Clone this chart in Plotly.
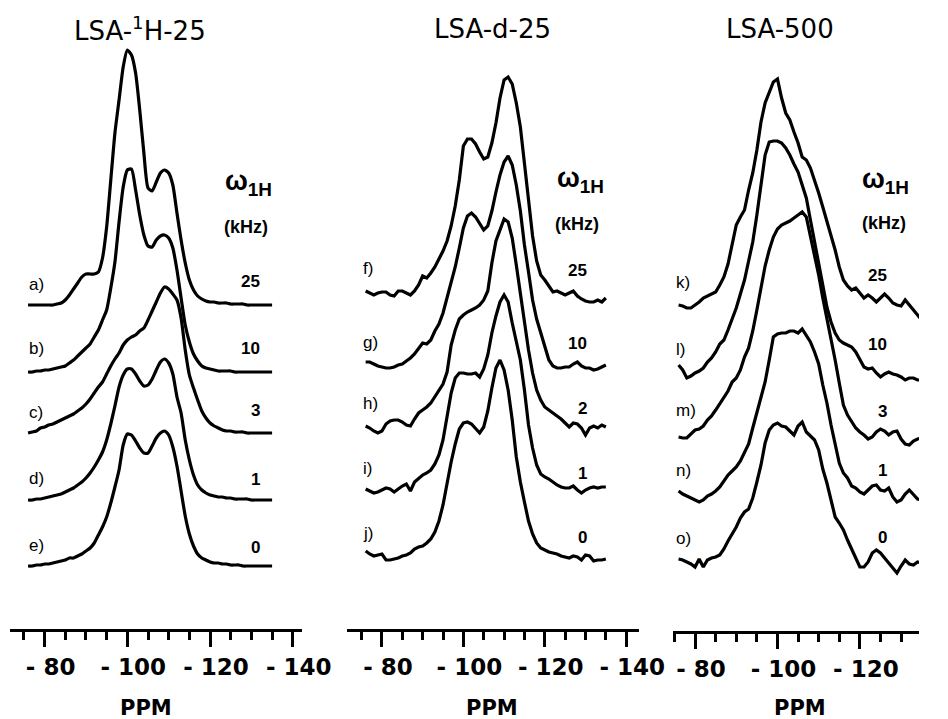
import plotly.graph_objects as go

# Chemical shift grid (ppm) shared by every spectrum
ppm = [-76, -77, -78, -79, -80, -81, -82, -83, -84, -85,
       -86, -87, -88, -89, -90, -91, -92, -93, -94, -95,
       -96, -97, -98, -99, -100, -101, -102, -103, -104, -105,
       -106, -107, -108, -109, -110, -111, -112, -113, -114, -115,
       -116, -117, -118, -119, -120, -121, -122, -123, -124, -125,
       -126, -127, -128, -129, -130, -131, -132, -133, -134, -135]

# ---- LSA-1H-25 : 29Si CP/MAS intensities (a.u.) ----
spec_a = [0, 0, 0, 0, 0, 0, 0, 1, 2, 5, 10, 16, 22, 28, 31, 31, 31, 33, 47, 78,
          125, 172, 205, 238, 255, 250, 232, 195, 152, 117, 114, 123, 132, 135, 132, 120, 92, 65, 42, 25,
          15, 9, 6, 4, 3, 3, 2, 2, 2, 1, 1, 1, 1, 0, 0, 0, 0, 0, 0, 0]
spec_b = [0, 0, 1, 1, 2, 2, 3, 4, 5, 6, 9, 12, 16, 20, 24, 28, 35, 42, 52, 62,
          84, 110, 150, 185, 202, 203, 182, 157, 137, 126, 125, 132, 136, 137, 134, 124, 102, 74, 47, 30,
          18, 11, 6, 4, 3, 2, 1, 1, 1, 1, 0, 0, 0, 0, 0, 0, 0, 0, 0, 0]
spec_c = [0, 1, 2, 5, 6, 8, 9, 11, 13, 15, 17, 19, 22, 25, 29, 34, 40, 46, 51, 59,
          67, 74, 80, 88, 93, 96, 98, 102, 105, 113, 122, 131, 140, 146, 144, 139, 133, 115, 83, 58,
          45, 33, 22, 15, 10, 7, 5, 3, 2, 2, 1, 1, 1, 0, 0, 0, 0, 0, 0, 0]
spec_d = [0, 0, 1, 1, 2, 3, 4, 5, 6, 8, 10, 12, 15, 18, 22, 27, 33, 40, 48, 60,
          76, 94, 113, 125, 131, 131, 126, 119, 114, 115, 121, 130, 138, 141, 137, 126, 103, 87, 60, 40,
          25, 15, 10, 7, 5, 4, 3, 3, 2, 2, 1, 1, 1, 1, 0, 0, 0, 0, 0, 0]
spec_e = [0, 0, 1, 1, 2, 2, 3, 4, 5, 6, 8, 8, 10, 12, 15, 18, 23, 31, 39, 49,
          63, 79, 96, 121, 132, 131, 125, 118, 113, 113, 120, 128, 133, 135, 131, 119, 100, 75, 50, 32,
          20, 12, 8, 6, 4, 3, 3, 2, 2, 1, 1, 1, 0, 0, 0, 0, 0, 0, 0, 0]

# ---- LSA-d-25 ----
spec_f = [5, 3, 1, 3, 4, 4, 1, 0, 5, 5, 3, 1, 5, 11, 20, 18, 23, 29, 37, 45,
          55, 70, 90, 116, 150, 157, 157, 152, 144, 137, 139, 153, 173, 198, 216, 219, 212, 193, 169, 133,
          96, 60, 35, 21, 16, 10, 4, 5, 3, 1, 3, 5, 0, -3, -5, -6, -6, -4, -6, -2]
spec_g = [4, 4, 2, 0, -1, -2, -2, -1, 1, 2, 5, 8, 12, 17, 23, 22, 26, 35, 42, 53,
          69, 82, 99, 118, 138, 150, 153, 149, 142, 136, 140, 155, 174, 191, 204, 210, 201, 181, 155, 121,
          94, 66, 47, 34, 19, 6, 0, -2, -2, -1, -1, 2, 4, 0, -2, -2, -4, -3, -1, 1]
spec_h = [0, -2, -5, -7, -5, 2, 5, 6, 6, 4, 1, 0, 7, 13, 16, 19, 23, 29, 35, 42,
          54, 81, 96, 107, 111, 114, 116, 118, 121, 126, 135, 163, 185, 197, 207, 204, 188, 161, 131, 104,
          76, 53, 36, 26, 19, 16, 13, 10, 7, 3, -1, 3, 2, -2, -9, -2, 0, -2, 1, -1]
spec_i = [1, -1, -3, -2, 0, 2, 1, -2, 1, 4, 6, -1, 8, 12, 15, 17, 20, 26, 35, 50,
          73, 97, 112, 117, 117, 116, 116, 117, 113, 121, 135, 157, 174, 188, 195, 188, 167, 150, 130, 100,
          65, 42, 25, 16, 13, 11, 8, 5, 3, 2, 2, 4, 0, -3, 0, 2, 3, 2, 3, 3]
spec_j = [5, 2, 0, 1, 2, -4, -4, -3, -2, 0, 1, 3, 7, 9, 10, 13, 17, 24, 35, 51,
          73, 94, 112, 127, 133, 134, 132, 127, 123, 129, 145, 168, 188, 196, 186, 166, 136, 99, 74, 54,
          35, 22, 13, 8, 6, 4, 3, 2, 0, -1, -2, 0, -1, -4, 1, 0, -5, -4, -4, -3]

# ---- LSA-500 ----
spec_k = [1, 0, -2, -2, 1, 4, 8, 10, 12, 14, 21, 29, 42, 61, 81, 89, 96, 116, 133, 156,
          184, 203, 214, 224, 227, 208, 193, 186, 174, 163, 149, 146, 138, 126, 113, 99, 85, 71, 56, 39,
          26, 20, 16, 18, 13, 8, 11, 8, 4, 8, 12, 8, 3, 1, 0, 6, 1, -4, -9, -14]
spec_l = [7, 2, -6, -4, -1, 1, 4, 10, 14, 20, 28, 32, 42, 52, 64, 78, 92, 111, 130, 157,
          187, 217, 230, 231, 231, 229, 224, 217, 208, 200, 187, 174, 152, 129, 109, 87, 65, 50, 39, 32,
          29, 27, 25, 20, 12, 5, 3, 4, -1, -5, -2, 0, -2, -3, -5, -8, -6, -6, -8, -8]
spec_m = [-2, -3, -3, 1, 5, 6, 9, 15, 19, 25, 31, 38, 44, 53, 57, 65, 78, 87, 104, 125,
          147, 169, 185, 198, 206, 210, 212, 214, 217, 220, 223, 218, 199, 180, 160, 137, 117, 94, 75, 52,
          30, 20, 13, 7, 3, 0, -4, -2, 3, 6, 4, 0, 3, 4, -4, -9, -10, -6, -4, -3]
spec_n = [3, 0, -2, -4, -6, -8, -6, -2, 0, 3, 7, 13, 19, 23, 27, 33, 42, 50, 66, 82,
          96, 112, 134, 157, 160, 161, 161, 163, 163, 161, 165, 158, 152, 142, 130, 109, 91, 69, 49, 31,
          21, 16, 8, 6, 2, 0, 4, 8, 9, 4, 3, 6, -3, -8, -6, 0, 4, -1, -5, -6]
spec_o = [1, 0, -2, -4, -7, 1, -7, 0, 2, 3, 5, 11, 19, 26, 33, 42, 48, 51, 62, 78,
          95, 117, 130, 135, 137, 134, 133, 129, 125, 134, 138, 128, 124, 120, 110, 91, 77, 59, 43, 37,
          30, 20, 10, 2, -7, -7, -2, 7, 10, 7, 2, -3, -8, -13, -6, 0, -4, -5, -2, -3]

# Vertical stacking offsets (a.u.), top trace first
offsets_1 = [261, 194, 133, 66, 0]
offsets_2 = [270, 200, 140, 76, 10]
offsets_3 = [260, 194, 131, 72, 6]

# Trace labels and 1H decoupling field strengths (kHz)
letters_1 = ["a)", "b)", "c)", "d)", "e)"]
letters_2 = ["f)", "g)", "h)", "i)", "j)"]
letters_3 = ["k)", "l)", "m)", "n)", "o)"]
fields_1 = ["25", "10", "3", "1", "0"]
fields_2 = ["25", "10", "2", "1", "0"]
fields_3 = ["25", "10", "3", "1", "0"]

titles = ["LSA-<sup>1</sup>H-25", "LSA-d-25", "LSA-500"]
tick_vals = [-80, -100, -120, -140]
tick_text = ["- 80", "- 100", "- 120", "- 140"]

panels = [
    dict(xa="x", spectra=[spec_a, spec_b, spec_c, spec_d, spec_e], offsets=offsets_1,
         letters=letters_1, fields=fields_1, shape="spline"),
    dict(xa="x2", spectra=[spec_f, spec_g, spec_h, spec_i, spec_j], offsets=offsets_2,
         letters=letters_2, fields=fields_2, shape="linear"),
    dict(xa="x3", spectra=[spec_k, spec_l, spec_m, spec_n, spec_o], offsets=offsets_3,
         letters=letters_3, fields=fields_3, shape="linear"),
]

fig = go.Figure()
for p in panels:
    for spec, off in zip(p["spectra"], p["offsets"]):
        fig.add_trace(go.Scatter(
            x=ppm, y=[off + v for v in spec], xaxis=p["xa"], yaxis="y",
            mode="lines", hoverinfo="skip",
            line=dict(color="black", width=3.2, shape=p["shape"], smoothing=0.6)))

W, H = 948, 719


def ppm_axis(left_px, right_px, ppm_left, ppm_right, line_px):
    return dict(
        domain=[left_px / W, right_px / W], range=[ppm_left, ppm_right],
        anchor="free", position=1 - line_px / H,
        showline=True, linecolor="black", linewidth=3,
        showgrid=False, zeroline=False, fixedrange=True,
        tickmode="array", tickvals=tick_vals, ticktext=tick_text,
        ticks="outside", ticklen=15, tickwidth=2.6, tickcolor="black",
        ticklabelshift=-6,
        tickfont=dict(family="DejaVu Sans", size=23, color="black", weight="bold"),
        minor=dict(ticks="outside", ticklen=8, tickwidth=2.6, tickcolor="black",
                   tickmode="linear", tick0=0, dtick=5, showgrid=False),
    )


annotations = []
lab_font = dict(family="Liberation Sans", size=17, color="black")
num_font = dict(family="Liberation Sans", size=17, color="black", weight="bold")

# per-panel anchor positions (ppm for x, intensity units for y)
label_x = [-75.8, -74.8, -74.8]
field_x = [-132.5, -130.95, -127.1]
label_y = [[282, 218, 154, 88, 21], [298, 224, 163, 98, 33], [284, 217, 156, 96, 28]]
field_y = [[285, 218, 156, 87, 19], [296, 223, 158, 93, 29], [291, 222, 155, 96, 29]]
omega_x = [-123.1, -122.4, -120.0]
omega_y = [383, 386, 385]
khz_x = [-128.7, -127.9, -125.9]
khz_y = [339, 342, 343]
ppm_label_x = [-104.6, -107.1, -105.4]
title_px = [144, 508, 805]

for i, p in enumerate(panels):
    xa = p["xa"]
    for lab, ly in zip(p["letters"], label_y[i]):
        annotations.append(dict(text=lab, x=label_x[i], y=ly, xref=xa, yref="y",
                                xanchor="left", yanchor="middle", showarrow=False, font=lab_font))
    for fld, fy in zip(p["fields"], field_y[i]):
        annotations.append(dict(text=fld, x=field_x[i], y=fy, xref=xa, yref="y",
                                xanchor="right", yanchor="middle", showarrow=False, font=num_font))
    annotations.append(dict(text="ω<sub>1H</sub>",
                            x=omega_x[i], y=omega_y[i], xref=xa, yref="y",
                            xanchor="left", yanchor="middle", showarrow=False,
                            font=dict(family="Liberation Sans", size=27, color="black", weight="bold")))
    annotations.append(dict(text="(kHz)",
                            x=khz_x[i], y=khz_y[i], xref=xa, yref="y",
                            xanchor="center", yanchor="middle", showarrow=False,
                            font=dict(family="Liberation Sans", size=18, color="black", weight="bold")))
    annotations.append(dict(text="PPM", x=ppm_label_x[i], y=-142, xref=xa, yref="y",
                            xanchor="center", yanchor="middle", showarrow=False,
                            font=dict(family="DejaVu Sans", size=21, color="black", weight="bold")))
    annotations.append(dict(text=titles[i],
                            x=title_px[i] / W, y=1 - 29 / H, xref="paper", yref="paper",
                            xanchor="center", yanchor="middle", showarrow=False,
                            font=dict(family="DejaVu Sans", size=26, color="black")))

fig.update_layout(
    width=W, height=H,
    margin=dict(l=0, r=0, t=0, b=0),
    paper_bgcolor="white", plot_bgcolor="white",
    showlegend=False,
    xaxis=ppm_axis(10, 312, -71.56, -142.34, 630),
    xaxis2=ppm_axis(358, 659, -71.43, -143.1, 630),
    xaxis3=ppm_axis(694, 948, -74.59, -134.35, 632),
    yaxis=dict(domain=[0, 1], range=[-153, 566], visible=False, fixedrange=True),
    annotations=annotations,
)

fig.write_html("out.html")
